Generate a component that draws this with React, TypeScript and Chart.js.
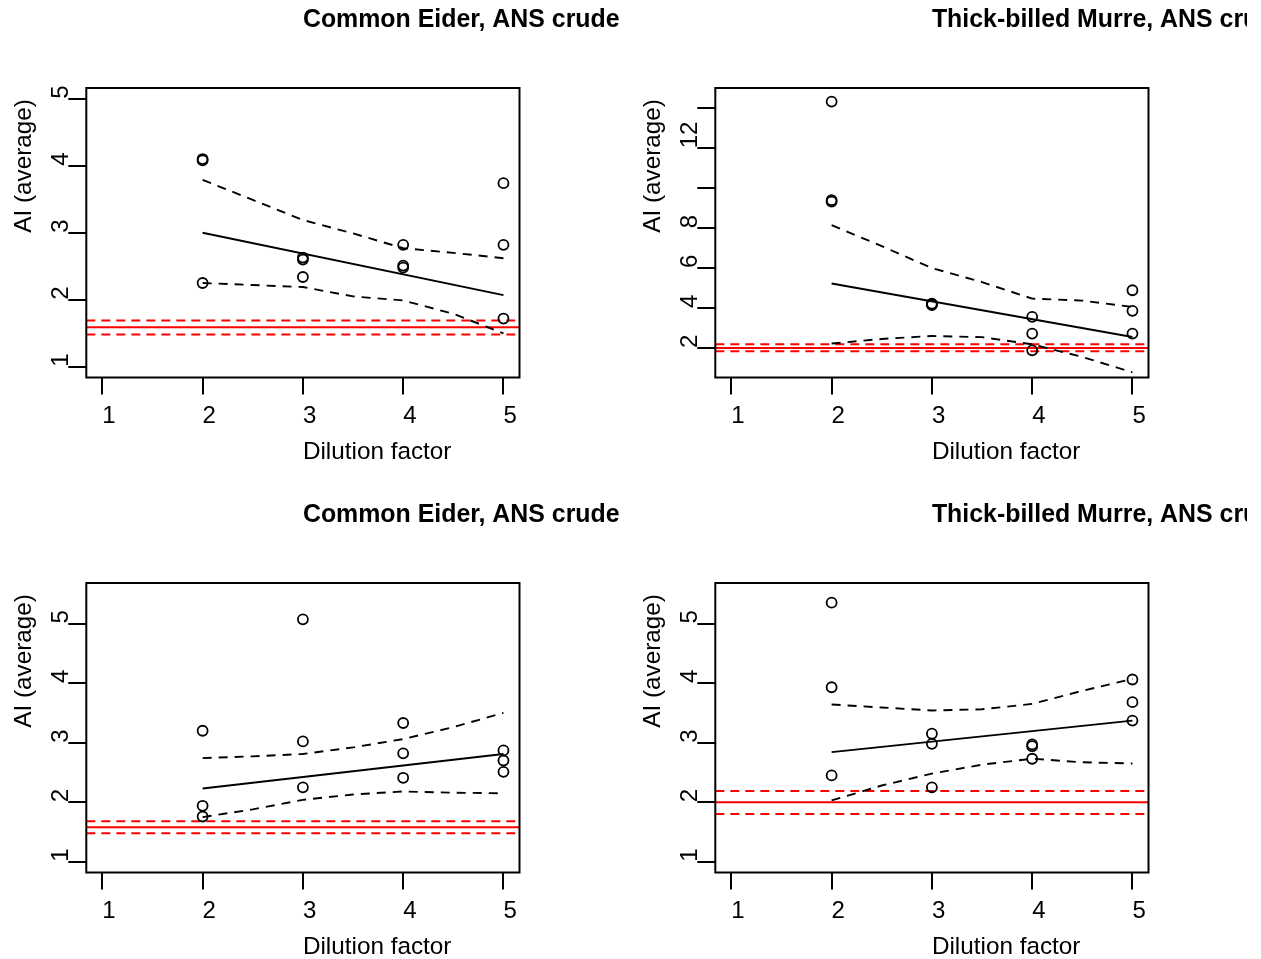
import React, { useEffect, useRef } from "react";
import { Chart, registerables } from "chart.js";

Chart.register(...registerables);

const FONT = '"Liberation Sans", Arial, Helvetica, sans-serif';

// ---------- shared labels ----------
const xLabel = "Dilution factor";
const yLabel = "AI (average)";
const xTicks = [1, 2, 3, 4, 5];
const xTickLabels = ["1", "2", "3", "4", "5"];
const xRange = [0.84, 5.16];
const curveX = [2, 2.5, 3, 3.5, 4, 4.5, 5];
const fitX = [2, 5];

// ---------- panel 1: Common Eider (top) ----------
const p1Title = "Common Eider, ANS crude";
const p1PointX = [2, 2, 2, 3, 3, 3, 4, 4, 4, 5, 5, 5];
const p1PointY = [4.08, 4.1, 2.25, 2.6, 2.63, 2.34, 2.82, 2.48, 2.51, 3.74, 2.82, 1.72];
const p1Fit = [3.0, 2.07];
const p1Upper = [3.79, 3.49, 3.19, 2.99, 2.77, 2.7, 2.62];
const p1Lower = [2.25, 2.22, 2.19, 2.05, 1.99, 1.79, 1.5];
const p1Ref = [1.59, 1.69, 1.48];
const p1YRange = [0.84, 5.16];
const p1YTicks = [1, 2, 3, 4, 5];
const p1YTickLabels = ["1", "2", "3", "4", "5"];

// ---------- panel 2: Thick-billed Murre (top) ----------
const p2Title = "Thick-billed Murre, ANS crude";
const p2PointX = [2, 2, 2, 3, 3, 3, 4, 4, 4, 5, 5, 5];
const p2PointY = [14.34, 9.33, 9.4, 4.15, 4.19, 4.22, 3.56, 2.72, 1.88, 4.89, 3.86, 2.72];
const p2Fit = [5.23, 2.55];
const p2Upper = [8.15, 7.1, 6.0, 5.3, 4.47, 4.37, 4.05];
const p2Lower = [2.22, 2.45, 2.6, 2.54, 2.18, 1.55, 0.78];
const p2Ref = [2.0, 2.19, 1.83];
const p2YRange = [0.52, 15.02];
const p2YTicks = [2, 4, 6, 8, 10, 12, 14];
const p2YTickLabels = ["2", "4", "6", "8", "", "12", ""];

// ---------- panel 3: Common Eider (bottom) ----------
const p3Title = "Common Eider, ANS crude";
const p3PointX = [2, 2, 2, 3, 3, 3, 4, 4, 4, 5, 5, 5];
const p3PointY = [3.2, 1.94, 1.76, 5.07, 3.02, 2.25, 3.33, 2.82, 2.41, 2.87, 2.7, 2.51];
const p3Fit = [2.23, 2.81];
const p3Upper = [2.74, 2.77, 2.81, 2.92, 3.06, 3.26, 3.5];
const p3Lower = [1.75, 1.88, 2.04, 2.13, 2.18, 2.16, 2.15];
const p3Ref = [1.58, 1.68, 1.48];
const p3YRange = [0.82, 5.68];
const p3YTicks = [1, 2, 3, 4, 5];
const p3YTickLabels = ["1", "2", "3", "4", "5"];

// ---------- panel 4: Thick-billed Murre (bottom) ----------
const p4Title = "Thick-billed Murre, ANS crude";
const p4PointX = [2, 2, 2, 3, 3, 3, 4, 4, 4, 5, 5, 5];
const p4PointY = [5.35, 3.93, 2.45, 3.15, 2.98, 2.25, 2.94, 2.97, 2.73, 4.06, 3.68, 3.37];
const p4Fit = [2.84, 3.37];
const p4Upper = [3.64, 3.59, 3.54, 3.56, 3.65, 3.87, 4.07];
const p4Lower = [2.03, 2.28, 2.48, 2.63, 2.73, 2.67, 2.65];
const p4Ref = [2.0, 2.19, 1.8];
const p4YRange = [0.82, 5.68];
const p4YTicks = [1, 2, 3, 4, 5];
const p4YTickLabels = ["1", "2", "3", "4", "5"];

type PanelDef = {
  title: string;
  pointX: number[];
  pointY: number[];
  fit: number[];
  upper: number[];
  lower: number[];
  ref: number[];
  yRange: number[];
  yTicks: number[];
  yTickLabels: string[];
};

const panels: PanelDef[] = [
  { title: p1Title, pointX: p1PointX, pointY: p1PointY, fit: p1Fit, upper: p1Upper, lower: p1Lower, ref: p1Ref, yRange: p1YRange, yTicks: p1YTicks, yTickLabels: p1YTickLabels },
  { title: p2Title, pointX: p2PointX, pointY: p2PointY, fit: p2Fit, upper: p2Upper, lower: p2Lower, ref: p2Ref, yRange: p2YRange, yTicks: p2YTicks, yTickLabels: p2YTickLabels },
  { title: p3Title, pointX: p3PointX, pointY: p3PointY, fit: p3Fit, upper: p3Upper, lower: p3Lower, ref: p3Ref, yRange: p3YRange, yTicks: p3YTicks, yTickLabels: p3YTickLabels },
  { title: p4Title, pointX: p4PointX, pointY: p4PointY, fit: p4Fit, upper: p4Upper, lower: p4Lower, ref: p4Ref, yRange: p4YRange, yTicks: p4YTicks, yTickLabels: p4YTickLabels },
];

// ---------- layout (pixels) ----------
const COL_W = 629;
const ROW_H = 495;
const CANVAS_W = 630;
const BOX_LEFT = 86.3;
const BOX_RIGHT = 519.5;
const BOX_TOP = 88;
const BOX_BOTTOM = 377.5;
const TITLE_CLIP_PAGE_X = 1247;

const rPlotPlugin = {
  id: "rPlot",
  afterDraw(chart: any, _args: any, opts: any) {
    const { ctx, chartArea: a } = chart;
    const xs = chart.scales.x;
    const ys = chart.scales.y;
    ctx.save();
    // box
    ctx.strokeStyle = "#000";
    ctx.lineWidth = 2;
    ctx.strokeRect(a.left, a.top, a.right - a.left, a.bottom - a.top);
    ctx.fillStyle = "#000";
    ctx.textAlign = "left";
    ctx.textBaseline = "alphabetic";
    ctx.font = `24px ${FONT}`;
    // x tick labels
    opts.xTicks.forEach((v: number, i: number) => {
      ctx.fillText(opts.xTickLabels[i], xs.getPixelForValue(v), a.bottom + 45);
    });
    // x axis title
    ctx.font = `24.3px ${FONT}`;
    ctx.fillText(opts.xLabel, (a.left + a.right) / 2, a.bottom + 81);
    ctx.font = `24px ${FONT}`;
    // y tick labels (rotated)
    opts.yTicks.forEach((v: number, i: number) => {
      const lab = opts.yTickLabels[i];
      if (!lab) return;
      ctx.save();
      ctx.translate(a.left - 18, ys.getPixelForValue(v));
      ctx.rotate(-Math.PI / 2);
      ctx.fillText(lab, 0, 0);
      ctx.restore();
    });
    // y axis title
    ctx.save();
    ctx.translate(a.left - 55, (a.top + a.bottom) / 2);
    ctx.rotate(-Math.PI / 2);
    ctx.font = `24.3px ${FONT}`;
    ctx.fillText(opts.yLabel, 0, 0);
    ctx.restore();
    // panel title
    ctx.save();
    ctx.beginPath();
    ctx.rect(0, 0, opts.clipRight, chart.height);
    ctx.clip();
    ctx.font = `bold 24.9px ${FONT}`;
    ctx.fillText(opts.title, (a.left + a.right) / 2, a.top - 61);
    ctx.restore();
    ctx.restore();
  },
};

function PanelChart({ def, col, row }: { def: PanelDef; col: number; row: number }) {
  const ref = useRef<HTMLCanvasElement | null>(null);
  const canvasH = row === 0 ? 480 : 464;
  useEffect(() => {
    if (!ref.current) return;
    const xMin = xRange[0];
    const xMax = xRange[1];
    const pts = def.pointX.map((x, i) => ({ x, y: def.pointY[i] }));
    const fitPts = fitX.map((x, i) => ({ x, y: def.fit[i] }));
    const upPts = curveX.map((x, i) => ({ x, y: def.upper[i] }));
    const loPts = curveX.map((x, i) => ({ x, y: def.lower[i] }));
    const refLine = (v: number) => [
      { x: xMin, y: v },
      { x: xMax, y: v },
    ];
    const lineBase = {
      showLine: true,
      pointRadius: 0,
      pointHoverRadius: 0,
      fill: false,
      tension: 0,
      borderWidth: 1.9,
    };
    const chart = new Chart(ref.current, {
      type: "scatter",
      data: {
        datasets: [
          {
            data: pts,
            pointRadius: 5,
            pointBorderWidth: 1.8,
            borderColor: "#000",
            backgroundColor: "rgba(0,0,0,0)",
            pointBackgroundColor: "rgba(0,0,0,0)",
            pointBorderColor: "#000",
            showLine: false,
          },
          { ...lineBase, data: fitPts, borderColor: "#000" },
          { ...lineBase, data: upPts, borderColor: "#000", borderDash: [9, 7] },
          { ...lineBase, data: loPts, borderColor: "#000", borderDash: [9, 7] },
          { ...lineBase, data: refLine(def.ref[0]), borderColor: "#ff0000", borderWidth: 2 },
          { ...lineBase, data: refLine(def.ref[1]), borderColor: "#ff0000", borderWidth: 2, borderDash: [9, 6] },
          { ...lineBase, data: refLine(def.ref[2]), borderColor: "#ff0000", borderWidth: 2, borderDash: [9, 6] },
        ] as any,
      },
      options: {
        responsive: false,
        animation: false,
        events: [],
        layout: { padding: { left: 0, top: BOX_TOP, right: CANVAS_W - BOX_RIGHT, bottom: 0 } },
        plugins: {
          legend: { display: false },
          tooltip: { enabled: false },
          title: { display: false },
          rPlot: {
            xTicks,
            xTickLabels,
            xLabel,
            yLabel,
            yTicks: def.yTicks,
            yTickLabels: def.yTickLabels,
            title: def.title,
            clipRight: col === 0 ? CANVAS_W : TITLE_CLIP_PAGE_X - col * COL_W,
          },
        } as any,
        scales: {
          x: {
            type: "linear",
            min: xMin,
            max: xMax,
            afterBuildTicks: (s: any) => {
              s.ticks = xTicks.map((v) => ({ value: v }));
            },
            afterFit: (s: any) => {
              s.height = canvasH - BOX_BOTTOM;
            },
            ticks: { display: false },
            border: { display: false },
            grid: {
              display: true,
              drawOnChartArea: false,
              drawTicks: true,
              tickLength: 17,
              color: "#000",
              lineWidth: 2,
            },
          },
          y: {
            type: "linear",
            min: def.yRange[0],
            max: def.yRange[1],
            afterBuildTicks: (s: any) => {
              s.ticks = def.yTicks.map((v) => ({ value: v }));
            },
            afterFit: (s: any) => {
              s.width = BOX_LEFT;
            },
            ticks: { display: false },
            border: { display: false },
            grid: {
              display: true,
              drawOnChartArea: false,
              drawTicks: true,
              tickLength: 18,
              color: "#000",
              lineWidth: 2,
            },
          },
        },
      } as any,
      plugins: [rPlotPlugin],
    });
    return () => chart.destroy();
  }, [def, col, row, canvasH]);

  return (
    <canvas
      ref={ref}
      width={CANVAS_W}
      height={canvasH}
      style={{
        position: "absolute",
        left: col * COL_W,
        top: row * ROW_H,
        width: CANVAS_W,
        height: canvasH,
      }}
    />
  );
}

export default function App() {
  return (
    <div
      style={{
        position: "absolute",
        left: 0,
        top: 0,
        width: 1261,
        height: 959,
        overflow: "hidden",
        background: "#fff",
      }}
    >
      {panels.map((p, i) => (
        <PanelChart key={i} def={p} col={i % 2} row={Math.floor(i / 2)} />
      ))}
    </div>
  );
}
